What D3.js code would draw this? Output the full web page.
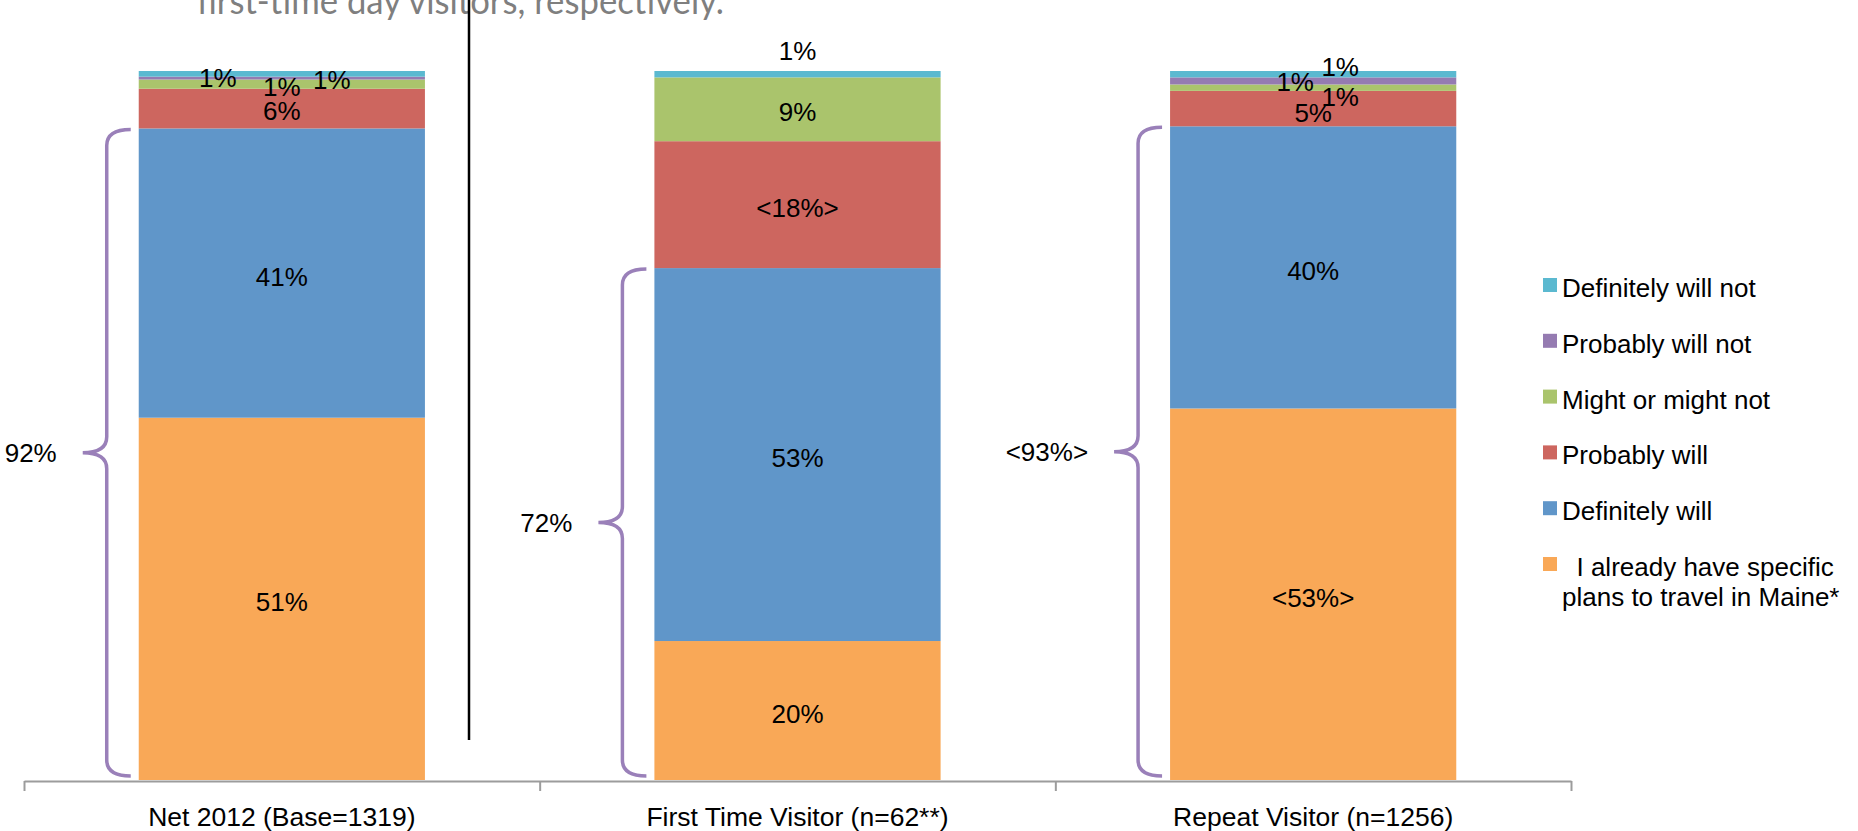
<!DOCTYPE html>
<html>
<head>
<meta charset="utf-8">
<script src="https://cdnjs.cloudflare.com/ajax/libs/d3/7.8.5/d3.min.js"></script>
<style>
  body { margin: 0; background: #fff; }
  svg { display: block; }
  text { font-family: "Liberation Sans", Arial, sans-serif; }
</style>
</head>
<body>
<div id="chart"></div>
<script>
// size of plot
const width = 1858;
const height = 831;

// categories along the x axis
const categories = ["Net 2012 (Base=1319)", "First Time Visitor (n=62**)", "Repeat Visitor (n=1256)"];

// series, bottom of the stack first
const seriesNames = ["plans", "defWill", "probWill", "might", "probNot", "defNot"];
const legendNames = ["  I already have specific|plans to travel in Maine*", "Definitely will", "Probably will",
                     "Might or might not", "Probably will not", "Definitely will not"];

// share of each answer per category (percent)
const plans    = [51.1, 19.6, 52.4];
const defWill  = [40.8, 52.6, 39.8];
const probWill = [5.6, 17.9, 5.0];
const might    = [1.3, 9.0, 0.9];
const probNot  = [0.4, 0.0, 1.0];
const defNot   = [0.8, 0.9, 0.9];

// data labels as printed on the chart
const plansLabels    = ["51%", "20%", "<53%>"];
const defWillLabels  = ["41%", "53%", "40%"];
const probWillLabels = ["6%", "<18%>", "5%"];
const mightLabels    = ["1%", "9%", "1%"];
const probNotLabels  = ["1%", "", "1%"];
const defNotLabels   = ["1%", "1%", "1%"];

// brace totals (definitely will + specific plans)
const braceLabels = ["92%", "72%", "<93%>"];

const colors = ["#f9a857", "#6096c9", "#cd665f", "#aac46c", "#957bb1", "#5bb9d0"];

// hand-placed label nudges (dx, dy from segment centre) for the thin slices
const labelNudge = {
  "defNot":  [[-64, 4], [0, -24], [27, -8]],
  "probNot": [[0, 8], [0, 0], [-18, 1]],
  "might":   [[50, -5], [0, 2], [27, 9]],
  "probWill":[[0, 2], [0, 3], [0, 4]]
};

const valuesBySeries = [plans, defWill, probWill, might, probNot, defNot];
const labelsBySeries = [plansLabels, defWillLabels, probWillLabels, mightLabels, probNotLabels, defNotLabels];

// build rows for d3.stack
const rows = categories.map((c, i) => {
  const r = {category: c};
  seriesNames.forEach((s, j) => r[s] = valuesBySeries[j][i]);
  return r;
});

const stacked = d3.stack()
  .keys(seriesNames)
  .offset(d3.stackOffsetExpand)(rows);

// scales
const x = d3.scaleBand()
  .domain(categories)
  .range([24, 1571])
  .paddingInner(0.445)
  .paddingOuter(0.2225);

const y = d3.scaleLinear()
  .domain([0, 1])
  .range([780, 71]);

const svg = d3.select("#chart")
  .append("svg")
  .attr("width", width)
  .attr("height", height);

// gray slide text cut off at the top
svg.append("text")
  .attr("x", 197)
  .attr("y", 14)
  .attr("textLength", 527)
  .attr("lengthAdjust", "spacingAndGlyphs")
  .style("font-family", "Lato, 'Open Sans', sans-serif")
  .style("font-size", "37px")
  .attr("fill", "#7f7f7f")
  .text("first-time day visitors, respectively.");

// stacked bars
const layer = svg.append("g")
  .selectAll("g")
  .data(stacked)
  .enter().append("g")
    .attr("fill", (d, i) => colors[i]);

layer.selectAll("rect")
  .data(d => d)
  .enter().append("rect")
    .attr("x", d => x(d.data.category))
    .attr("y", d => y(d[1]))
    .attr("width", x.bandwidth())
    .attr("height", d => y(d[0]) - y(d[1]));

// data labels
const labelG = svg.append("g")
  .style("font-size", "26px")
  .attr("fill", "#000")
  .attr("text-anchor", "middle");

stacked.forEach((s, j) => {
  s.forEach((d, i) => {
    const txt = labelsBySeries[j][i];
    if (!txt) return;
    const nudge = labelNudge[s.key] ? labelNudge[s.key][i] : [0, 3];
    const cx = x(d.data.category) + x.bandwidth() / 2 + nudge[0];
    const cy = (y(d[0]) + y(d[1])) / 2 + nudge[1];
    labelG.append("text")
      .attr("x", cx)
      .attr("y", cy + 9.5)
      .text(txt);
  });
});

// braces round "definitely will" + "specific plans"
const braceG = svg.append("g");
categories.forEach((c, i) => {
  const x0 = x(c);
  const yTop = y(stacked[1][i][1]) + 1;
  const yBot = y(0) - 4;
  const yMid = (yTop + yBot) / 2;
  const xe = x0 - 8, xv = x0 - 32, xt = x0 - 56, r = 16;
  const p = d3.path();
  p.moveTo(xe, yTop);
  p.quadraticCurveTo(xv, yTop, xv, yTop + r);
  p.lineTo(xv, yMid - r);
  p.quadraticCurveTo(xv, yMid, xt, yMid);
  p.quadraticCurveTo(xv, yMid, xv, yMid + r);
  p.lineTo(xv, yBot - r);
  p.quadraticCurveTo(xv, yBot, xe, yBot);
  braceG.append("path")
    .attr("d", p.toString())
    .attr("fill", "none")
    .attr("stroke", "#9a80b9")
    .attr("stroke-width", 3.5);
  braceG.append("text")
    .attr("x", xt - 26)
    .attr("y", yMid + 9.5)
    .attr("text-anchor", "end")
    .style("font-size", "26px")
    .text(braceLabels[i]);
});

// x axis: line with ticks between categories
const xEdges = d3.scaleLinear().domain([0, categories.length]).range([24, 1571]);
svg.append("g")
  .attr("transform", `translate(0,${y(0) + 1})`)
  .call(d3.axisBottom(xEdges).tickValues(d3.range(categories.length + 1)).tickFormat("").tickSize(10).tickSizeOuter(0))
  .call(g => g.selectAll("path, line").attr("stroke", "#9c9c9c").attr("stroke-width", 2));

svg.append("g")
  .attr("transform", `translate(0,${y(0) + 1})`)
  .call(d3.axisBottom(x).tickSize(0).tickPadding(26))
  .call(g => g.select(".domain").remove())
  .call(g => g.selectAll("text")
    .style("font-family", "'Liberation Sans', Arial, sans-serif")
    .style("font-size", "26.5px")
    .attr("fill", "#000"));

// legend, top item is the top of the stack
const legend = svg.append("g")
  .style("font-size", "26px");
const legendOrder = d3.range(seriesNames.length).reverse();
legendOrder.forEach((j, k) => {
  const yy = 297 + k * 55.8;
  legend.append("rect")
    .attr("x", 1543)
    .attr("y", yy - 19)
    .attr("width", 14)
    .attr("height", 14)
    .attr("fill", colors[j]);
  const lines = legendNames[j].split("|");
  const t = legend.append("text")
    .attr("x", 1562)
    .attr("y", yy)
    .attr("xml:space", "preserve")
    .style("white-space", "pre");
  lines.forEach((ln, li) => {
    t.append("tspan")
      .attr("x", 1562)
      .attr("dy", li === 0 ? 0 : 30)
      .text(ln);
  });
});

// vertical black line from the slide
svg.append("line")
  .attr("x1", 469).attr("x2", 469)
  .attr("y1", 0).attr("y2", 740)
  .attr("stroke", "#000")
  .attr("stroke-width", 2.5);
</script>
</body>
</html>
